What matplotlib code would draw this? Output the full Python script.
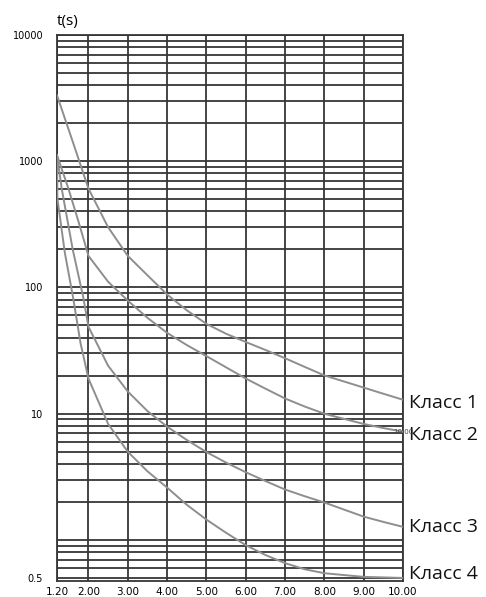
import matplotlib

matplotlib.use("Agg")

import matplotlib.pyplot as plt

# x = current multiple (I/Ir), y = trip time t(s)
class1_x = [1.2, 1.6, 2.0, 2.5, 3.0, 3.5, 4.0, 4.5, 5.0, 5.5, 6.0, 6.5, 7.0, 7.5, 8.0, 8.5, 9.0, 9.5, 10.0]
class1_t = [3330, 1430, 607, 300, 178, 125, 88, 66, 51.5, 43, 37, 32, 27.5, 23.5, 20.1, 18, 16.1, 14.4, 12.9]

class2_x = [1.2, 1.49, 1.75, 2.0, 2.5, 3.0, 3.5, 4.0, 4.5, 5.0, 5.5, 6.0, 6.5, 7.0, 7.5, 8.0, 8.5, 9.0, 9.5, 10.0]
class2_t = [1120, 607, 330, 178, 111, 78.7, 57.5, 43.7, 35, 28.6, 23.3, 19, 15.8, 13.2, 11.4, 10, 9.1, 8.3, 7.7, 7.2]

class3_x = [1.2, 1.32, 1.6, 1.87, 2.0, 2.5, 3.0, 3.5, 4.0, 4.5, 5.0, 5.5, 6.0, 6.5, 7.0, 7.5, 8.0, 8.5, 9.0, 9.5, 10.0]
class3_t = [1120, 607, 200, 83, 48.8, 24, 15, 10.5, 7.9, 6.2, 4.97, 4.1, 3.44, 2.93, 2.51, 2.22, 1.98, 1.74, 1.53, 1.39, 1.27]

class4_x = [1.2, 1.21, 1.4, 1.61, 1.8, 2.0, 2.5, 3.0, 3.5, 4.0, 4.5, 5.0, 5.5, 6.0, 6.5, 7.0, 7.5, 8.0, 9.0, 10.0]
class4_t = [1120, 507, 188, 83, 36, 19, 8.3, 5.0, 3.5, 2.6, 1.9, 1.45, 1.14, 0.91, 0.76, 0.655, 0.586, 0.545, 0.51, 0.50]

series = [
    ("Класс 1", class1_x, class1_t),
    ("Класс 2", class2_x, class2_t),
    ("Класс 3", class3_x, class3_t),
    ("Класс 4", class4_x, class4_t),
]
label_dy = [-2, -2, 0, 3]

x_ticks = [1.2, 2, 3, 4, 5, 6, 7, 8, 9, 10]
x_labels = ["1.20", "2.00", "3.00", "4.00", "5.00", "6.00", "7.00", "8.00", "9.00", "10.00"]
y_ticks = [0.5, 10, 100, 1000, 10000]
y_labels = ["0.5", "10", "100", "1000", "10000"]

GRID = "#363636"
CURVE = "#8e8e8e"

fig = plt.figure(figsize=(4.86, 5.97), dpi=100)
ax = fig.add_axes([57 / 486, 1 - 581 / 597, 346 / 486, 546 / 597])

for name, xs, ts in series:
    ax.plot(xs, ts, color=CURVE, lw=1.4, zorder=3)

ax.set_yscale("log")
ax.set_xlim(1.2, 10)
ax.set_ylim(0.473, 10000)

# log paper: a line at every 1..9 step of each decade
minor = [m * 10.0 ** e for e in range(-1, 4) for m in range(1, 10)]
minor = [v for v in minor if 0.5 < v < 10000 and v not in y_ticks]
ax.set_yticks(y_ticks)
ax.set_yticklabels(y_labels)
ax.set_yticks(minor, minor=True)
ax.set_xticks(x_ticks)
ax.set_xticklabels(x_labels)

ax.grid(which="both", axis="y", color=GRID, lw=1.3)
ax.grid(which="major", axis="x", color=GRID, lw=1.3)
ax.tick_params(axis="both", which="both", length=0)
ax.tick_params(axis="y", pad=10, labelsize=7)
ax.tick_params(axis="x", pad=4, labelsize=7.5)
ax.yaxis.set_minor_formatter(matplotlib.ticker.NullFormatter())
for sp in ax.spines.values():
    sp.set_color(GRID)
    sp.set_linewidth(1.3)

label_fonts = ["Open Sans", "DejaVu Sans"]
for (name, xs, ts), dy in zip(series, label_dy):
    ax.annotate(name, xy=(xs[-1], ts[-1]), xytext=(4, dy), textcoords="offset points",
                ha="left", va="center", fontsize=14, family=label_fonts,
                color="#111111", annotation_clip=False)

ax.text(class2_x[-1], class2_t[-1], "10.00", ha="center", va="center", fontsize=5,
        color="#444444", zorder=4)

fig.text(57 / 486, 1 - 21 / 597, "t(s)", ha="left", va="center", fontsize=11,
         family=label_fonts)

fig.savefig("out.png", dpi=100)
